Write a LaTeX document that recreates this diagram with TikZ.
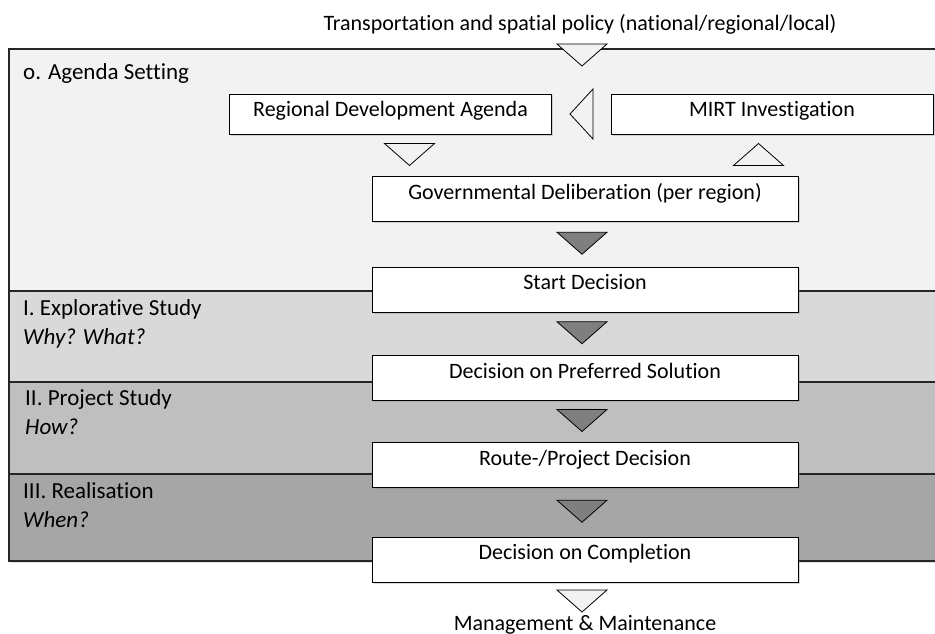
\documentclass[tikz,border=0pt]{standalone}
\usepackage{fontspec}
\setmainfont{Carlito}[Ligatures=NoCommon]
\usepackage{tikz}
\usetikzlibrary{calc,shadows}

\definecolor{band0}{HTML}{F2F2F2}
\definecolor{band1}{HTML}{D9D9D9}
\definecolor{band2}{HTML}{BFBFBF}
\definecolor{band3}{HTML}{A6A6A6}
\definecolor{flowgray}{HTML}{7F7F7F}

\tikzset{
    phase/.style={draw=black!85, line width=1.2pt,
        drop shadow={opacity=0.25, shadow xshift=1.5pt, shadow yshift=-1.5pt}},
    phaselabel/.style={anchor=base west, inner sep=0pt, font=\fontsize{23}{26}\selectfont},
    stepbox/.style={draw, fill=white, line width=0.9pt, inner sep=0pt,
        minimum width=426pt, minimum height=45pt, text height=14pt, text depth=14pt,
        font=\fontsize{22}{25}\selectfont,
        drop shadow={opacity=0.3, shadow xshift=1.5pt, shadow yshift=-1.5pt}},
    sidebox/.style={stepbox, minimum width=322pt, minimum height=40pt,
        text height=14pt, text depth=8pt},
    flow down/.pic={\draw[line width=0.8pt, pic actions] (-25,-11) -- (25,-11) -- (0,11) -- cycle;},
    flow up/.pic={\draw[line width=0.8pt, pic actions] (-25,11) -- (25,11) -- (0,-11) -- cycle;},
    flow left/.pic={\draw[line width=0.8pt, pic actions] (11.5,-25) -- (11.5,25) -- (-11.5,0) -- cycle;}
}

\begin{document}
\begin{tikzpicture}[x=1pt, y=-1pt]
    \useasboundingbox (0,0) rectangle (935,634);

    % Phase bands
    \foreach \top/\bot/\col in {49/291/band0, 291/382/band1, 382/474/band2, 474/561/band3} {
        \draw[phase, fill=\col] (9,\top) rectangle (940,\bot);
    }

    % Phase names (base = last line)
    \node[phaselabel] (p0) at (23,80) {o. Agenda Setting};
    \node[phaselabel, align=left] (p1) at (23,344) {I. Explorative Study\\[3pt]\textit{Why? What?}};
    \node[phaselabel, align=left] (p2) at (25,434) {II. Project Study\\[3pt]\textit{How?}};
    \node[phaselabel, align=left] (p3) at (23,527) {III. Realisation\\[3pt]\textit{When?}};

    % Input and output
    \node[font=\fontsize{22}{25}\selectfont, anchor=base] (policy) at (580,31)
        {Transportation and spatial policy (national/regional/local)};
    \node[font=\fontsize{22}{25}\selectfont, anchor=base] (maint) at (585,630)
        {Management \& Maintenance};

    % Agenda boxes
    \node[sidebox] (rda) at (390.5,114) {Regional Development Agenda};
    \node[sidebox] (mirt) at (772,114) {MIRT Investigation};

    % Decision chain
    \node[stepbox] (gov) at (585,199) {Governmental Deliberation (per region)};
    \node[stepbox] (start) at (585,289.5) {Start Decision};
    \node[stepbox] (pref) at (585,378) {Decision on Preferred Solution};
    \node[stepbox] (route) at (585,465) {Route-/Project Decision};
    \node[stepbox] (compl) at (585,559.5) {Decision on Completion};

    % Flow triangles
    \pic[fill=band0] at (582,55) {flow down};
    \pic[fill=band0] at (581.5,114) {flow left};
    \pic[fill=band0] at (409.5,154.5) {flow down};
    \pic[fill=band0] at (758.5,154.5) {flow up};
    \foreach \a/\b in {gov/start, start/pref, pref/route, route/compl} {
        \pic[fill=flowgray] at ($(\a.south)!.5!(\b.north) + (-3,-1)$) {flow down};
    }
    \pic[fill=band0] at (582,601) {flow down};
\end{tikzpicture}
\end{document}
